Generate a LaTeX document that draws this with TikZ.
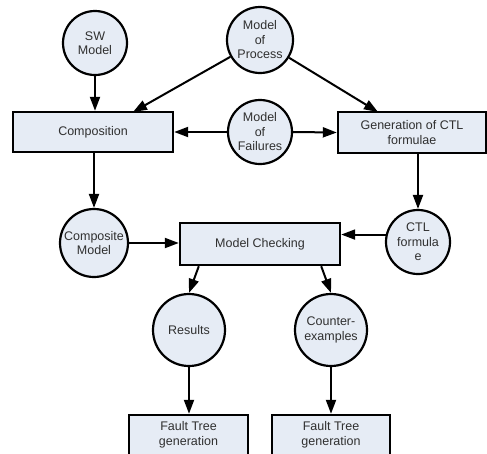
\documentclass[tikz,border=0pt]{standalone}
\usepackage{fontspec}
\setmainfont{Liberation Sans}
\usetikzlibrary{arrows.meta}
\definecolor{fillc}{HTML}{E6ECF5}
\definecolor{txtc}{HTML}{303030}
\begin{document}
\begin{tikzpicture}[x=1pt,y=-1pt,
  every node/.style={font=\fontsize{12.5}{14.5}\selectfont, text=txtc, align=center},
  circ/.style={circle, draw=black, fill=fillc, line width=2.2pt, inner sep=0pt},
  boxn/.style={rectangle, draw=black, fill=fillc, line width=2.4pt, inner sep=0pt},
  arr/.style={line width=2pt, -{Triangle[length=14pt,width=10pt]}}]
\useasboundingbox (0,0) rectangle (487,453);
\clip (0,0) rectangle (487,453);
\node[circ, minimum size=64pt] (sw) at (95,43) {SW\\Model};
\node[circ, minimum size=66pt] (proc) at (260,40) {Model\\of\\Process};
\node[boxn, minimum width=160pt, minimum height=40pt] (comp) at (93,132) {Composition};
\node[circ, minimum size=64pt] (fail) at (260,132) {Model\\of\\Failures};
\node[boxn, minimum width=148pt, minimum height=41pt] (gen) at (412,132.5) {Generation of CTL\\formulae};
\node[circ, minimum size=68pt] (cm) at (94,243) {Composite\\Model};
\node[boxn, minimum width=160pt, minimum height=42pt] (mc) at (260,244) {Model Checking};
\node[circ, minimum size=64pt] (ctl) at (418,242) {CTL\\formula\\e};
\node[circ, minimum size=72pt] (res) at (189,330) {Results};
\node[circ, minimum size=72pt] (cex) at (331,330) {Counter-\\examples};
\node[boxn, minimum width=119pt, minimum height=40pt] (ft1) at (188.5,435) {Fault Tree\\generation};
\node[boxn, minimum width=118pt, minimum height=40pt] (ft2) at (331,435) {Fault Tree\\generation};
\draw[arr] (sw.south) -- (comp.north -| sw.south);
\coordinate (c1) at (133,112);
\coordinate (c2) at (378,112);
\draw[arr] (proc) -- (c1);
\draw[arr] (proc) -- (c2);
\draw[arr] (fail.west) -- (comp.east);
\draw[arr] (fail.east) -- (gen.west);
\draw[arr] (comp.south -| cm.north) -- (cm.north);
\draw[arr] (gen.south -| ctl.north) -- (ctl.north);
\draw[arr] (cm.east) -- (mc.west |- cm.east);
\draw[arr] (ctl.167) -- (mc.east |- ctl.167);
\draw[arr] ([xshift=20pt]mc.south west) -- (res.north);
\draw[arr] ([xshift=-20pt]mc.south east) -- (cex.north);
\draw[arr] (res.south) -- (ft1.north -| res.south);
\draw[arr] (cex.south) -- (ft2.north -| cex.south);
\end{tikzpicture}
\end{document}
